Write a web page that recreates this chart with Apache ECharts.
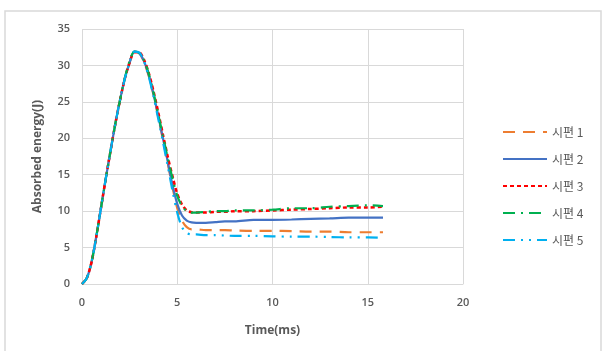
<!DOCTYPE html>
<html><head><meta charset="utf-8">
<script src="https://cdn.jsdelivr.net/npm/echarts@6/dist/echarts.min.js"></script>
<style>html,body{margin:0;padding:0;background:#fff}#c{width:616px;height:351px}</style>
</head><body><div id="c"></div>
<script>
const time = [0,0.25,0.5,0.75,1,1.25,1.5,1.75,2,2.25,2.5,2.75,3,3.25,3.5,3.75,4,4.25,4.5,4.75,5,5.25,5.5,5.75,6,6.5,7,7.5,8,9,10,11,12,13,14,15,15.8];
const s1 = [0,0.8,3,6.5,10.5,14.5,18.3,22,25.3,28.2,30.4,31.9,31.7,30.5,28.6,26.0,23.0,19.8,16.6,13.3,10.4,8.7,7.8,7.5,7.5,7.4,7.4,7.4,7.35,7.3,7.3,7.25,7.2,7.2,7.1,7.1,7.1];
const s2 = [0,0.8,3,6.5,10.5,14.5,18.3,22,25.3,28.2,30.4,31.9,31.7,30.6,28.7,26.1,23.1,20.0,16.8,13.6,11.0,9.4,8.7,8.45,8.4,8.4,8.5,8.6,8.6,8.8,8.8,8.85,8.95,9.0,9.1,9.1,9.1];
const s3 = [0,0.8,3,6.5,10.5,14.5,18.3,22,25.3,28.2,30.4,31.8,31.8,30.8,29.0,26.5,23.6,20.5,17.5,14.8,12.4,10.9,10.1,9.85,9.8,9.8,9.9,9.9,10.0,10.0,10.1,10.2,10.3,10.4,10.5,10.5,10.6];
const s4 = [0,0.8,3,6.5,10.5,14.5,18.3,22,25.3,28.3,30.6,31.9,31.7,30.7,28.9,26.3,23.3,20.3,17.3,14.5,12.1,10.7,10.0,9.8,9.8,9.9,10.0,10.0,10.1,10.1,10.2,10.4,10.4,10.6,10.7,10.8,10.7];
const s5 = [0,0.8,3,6.5,10.5,14.5,18.3,22,25.3,28.2,30.4,31.9,31.8,30.6,28.5,25.8,22.7,19.5,16.2,12.8,9.8,7.8,7.0,6.8,6.8,6.7,6.7,6.65,6.6,6.6,6.55,6.5,6.5,6.45,6.4,6.4,6.35];
const names = ['시편 1','시편 2','시편 3','시편 4','시편 5'];
const xTicks = [0,5,10,15,20];
const yTicks = [0,5,10,15,20,25,30,35];

const colors = ['#ED7D31','#4472C4','#FF0000','#00B050','#00B0F0'];
const dashes = [[12,8],'solid',[4,3],[12,6,2,6],[12,6,2,6,2,6]];
const widths = [2.2,2.2,2.5,2.2,2.2];
const all = [s1,s2,s3,s4,s5];
const chart = echarts.init(document.getElementById('c'));
const font = '"Open Sans", "Noto Sans CJK KR", sans-serif';
chart.setOption({
  animation:false,
  backgroundColor:'#fff',
  graphic:[{type:'rect',shape:{x:5,y:11,width:596,height:360},style:{fill:'none',stroke:'#d9d9d9',lineWidth:1.5},silent:true}],
  grid:{left:82,top:29,right:153,bottom:67},
  legend:{orient:'vertical',left:497,top:121,itemWidth:44,itemHeight:14,itemGap:15,
    itemStyle:{opacity:0},
    textStyle:{color:'#595959',fontSize:12,fontFamily:'"Noto Sans CJK KR", sans-serif',padding:[0,0,0,0]},
    data:names},
  xAxis:{type:'value',min:xTicks[0],max:xTicks[xTicks.length-1],interval:5,
    name:'Time(ms)',nameLocation:'middle',nameGap:41,
    nameTextStyle:{color:'#595959',fontSize:12,fontWeight:'bold',fontFamily:font},
    axisLine:{show:true,lineStyle:{color:'#d9d9d9'}},axisTick:{show:false},
    axisLabel:{color:'#595959',fontSize:11,fontWeight:600,fontFamily:font,margin:13},
    splitLine:{show:true,lineStyle:{color:'#d9d9d9'}}},
  yAxis:{type:'value',min:yTicks[0],max:yTicks[yTicks.length-1],interval:5,
    name:'Absorbed energy(J)',nameLocation:'middle',nameGap:38,
    nameTextStyle:{color:'#595959',fontSize:12,fontWeight:'bold',fontFamily:font},
    axisLine:{show:false},axisTick:{show:false},
    axisLabel:{color:'#595959',fontSize:11,fontWeight:600,fontFamily:font,margin:12},
    splitLine:{show:true,lineStyle:{color:'#d9d9d9'}}},
  series: names.map((n,i)=>({
    name:n,type:'line',symbol:'none',smooth:0.3,
    data: time.map((t,k)=>[t,all[i][k]]),
    lineStyle:{color:colors[i],width:widths[i],type:dashes[i]},
    itemStyle:{color:colors[i]}
  }))
});
</script></body></html>
